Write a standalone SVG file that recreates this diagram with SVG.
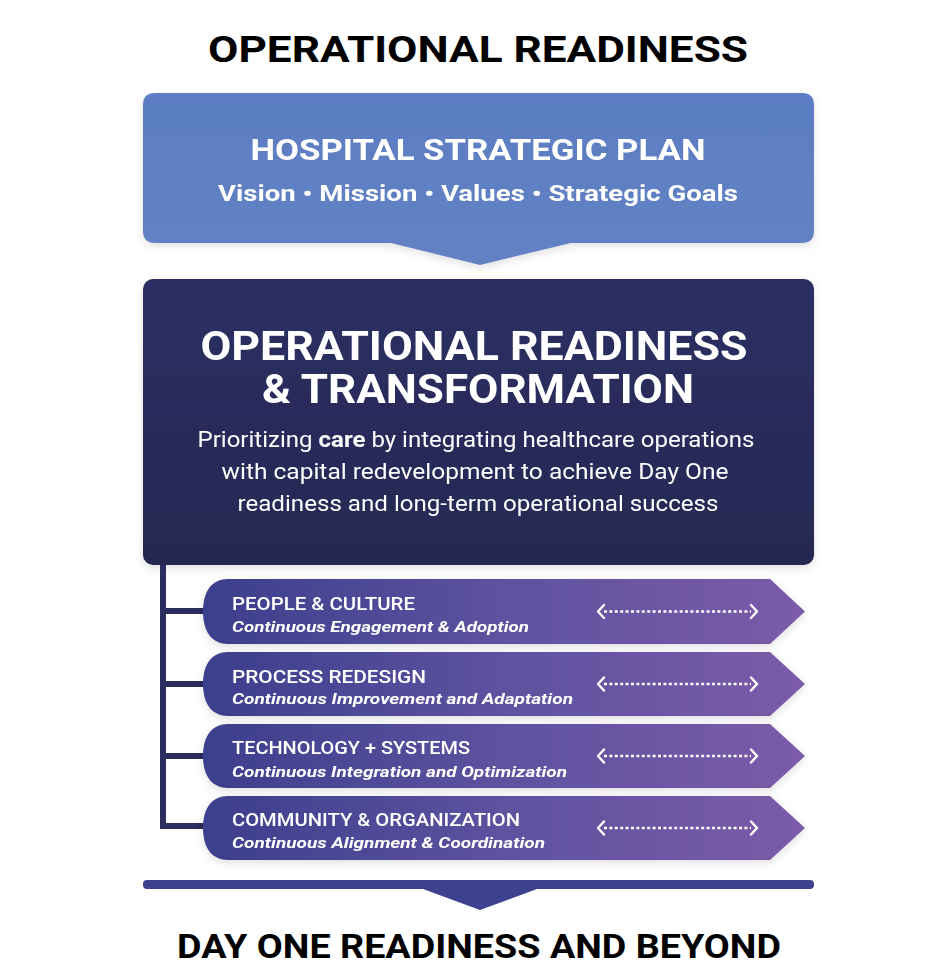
<svg xmlns="http://www.w3.org/2000/svg" width="942" height="969" viewBox="0 0 942 969">
  <defs>
    <linearGradient id="blueG" x1="0" y1="0" x2="0" y2="1">
      <stop offset="0" stop-color="#5b7dc3"/>
      <stop offset="1" stop-color="#6382c4"/>
    </linearGradient>
    <linearGradient id="navyG" x1="0" y1="0" x2="0" y2="1">
      <stop offset="0" stop-color="#2c2f63"/>
      <stop offset="1" stop-color="#262852"/>
    </linearGradient>
    <linearGradient id="bandG" x1="0" y1="0" x2="1" y2="0">
      <stop offset="0" stop-color="#3b3f8d"/>
      <stop offset="0.5" stop-color="#5e529f"/>
      <stop offset="1" stop-color="#7b5ba9"/>
    </linearGradient>
    <filter id="sh" x="-10%" y="-10%" width="120%" height="130%">
      <feDropShadow dx="0" dy="3" stdDeviation="4" flood-color="#000" flood-opacity="0.12"/>
    </filter>
    <style>
      .t { font-family: Roboto, "Liberation Sans", sans-serif; }
      .hb { font-weight: 700; fill: #000; }
      .w { fill: #fff; }
      .bt { font-weight: 500; font-size: 19px; fill: #fff; }
      .bs { font-weight: 700; font-style: italic; font-size: 15px; fill: #fff; }
      .dots { stroke: #fff; stroke-width: 2.5; stroke-dasharray: 3 2.4; fill: none; }
      .chev { stroke: #fff; stroke-width: 2.4; fill: none; stroke-linecap: round; stroke-linejoin: round; }
      .tree { stroke: #2a2d5e; stroke-width: 6; fill: none; }
    </style>
  </defs>

  <rect width="942" height="969" fill="#fff"/>

  <g id="title">
    <text class="t hb" x="478" y="62" font-size="37" text-anchor="middle" textLength="540" lengthAdjust="spacingAndGlyphs">OPERATIONAL READINESS</text>
  </g>

  <g id="strategic-plan" filter="url(#sh)">
    <path d="M155 93 H802 Q814 93 814 105 V231 Q814 243 802 243 H571 L480 265 L391 243 H155 Q143 243 143 231 V105 Q143 93 155 93 Z" fill="url(#blueG)"/>
    <text class="t w" x="478" y="160" font-size="30" font-weight="700" text-anchor="middle" textLength="455" lengthAdjust="spacingAndGlyphs">HOSPITAL STRATEGIC PLAN</text>
    <text class="t w" x="478" y="201" font-size="22" font-weight="700" text-anchor="middle" textLength="520" lengthAdjust="spacingAndGlyphs">Vision • Mission • Values • Strategic Goals</text>
  </g>

  <g id="readiness" filter="url(#sh)">
    <rect x="143" y="279" width="671" height="286" rx="10" fill="url(#navyG)"/>
    <text class="t w" x="474" y="360" font-size="40" font-weight="700" text-anchor="middle" textLength="547" lengthAdjust="spacingAndGlyphs">OPERATIONAL READINESS</text>
    <text class="t w" x="478" y="403" font-size="40" font-weight="700" text-anchor="middle" textLength="432" lengthAdjust="spacingAndGlyphs">&amp; TRANSFORMATION</text>
    <text class="t w" x="476" y="447" font-size="22" text-anchor="middle" textLength="557" lengthAdjust="spacingAndGlyphs">Prioritizing <tspan font-weight="700">care</tspan> by integrating healthcare operations</text>
    <text class="t w" x="475" y="479" font-size="22" text-anchor="middle" textLength="507" lengthAdjust="spacingAndGlyphs">with capital redevelopment to achieve Day One</text>
    <text class="t w" x="478" y="511" font-size="22" text-anchor="middle" textLength="481" lengthAdjust="spacingAndGlyphs">readiness and long-term operational success</text>
  </g>

  <g id="connectors">
    <path class="tree" d="M163 565 V826 H206"/>
    <path class="tree" d="M163 611 H206 M163 684 H206 M163 756 H206"/>
  </g>

  <g id="people-culture" filter="url(#sh)">
    <path d="M228 579 H770 L805 611.5 L770 644 H228 C212 644 203 632 203 611.5 C203 591 212 579 228 579 Z" fill="url(#bandG)"/>
    <text class="t bt" x="232" y="610" textLength="183" lengthAdjust="spacingAndGlyphs">PEOPLE &amp; CULTURE</text>
    <text class="t bs" x="232" y="632" textLength="297" lengthAdjust="spacingAndGlyphs">Continuous Engagement &amp; Adoption</text>
    <line class="dots" x1="604" y1="611.5" x2="751" y2="611.5"/>
    <polyline class="chev" points="604,605 598,611.5 604,618"/>
    <polyline class="chev" points="751,605 757,611.5 751,618"/>
  </g>

  <g id="process-redesign" filter="url(#sh)">
    <path d="M228 652 H770 L805 684 L770 716 H228 C212 716 203 704 203 684 C203 664 212 652 228 652 Z" fill="url(#bandG)"/>
    <text class="t bt" x="232" y="683" textLength="194" lengthAdjust="spacingAndGlyphs">PROCESS REDESIGN</text>
    <text class="t bs" x="232" y="704" textLength="341" lengthAdjust="spacingAndGlyphs">Continuous Improvement and Adaptation</text>
    <line class="dots" x1="604" y1="684" x2="751" y2="684"/>
    <polyline class="chev" points="604,677.5 598,684 604,690.5"/>
    <polyline class="chev" points="751,677.5 757,684 751,690.5"/>
  </g>

  <g id="technology-systems" filter="url(#sh)">
    <path d="M228 724 H770 L805 756 L770 788 H228 C212 788 203 776 203 756 C203 736 212 724 228 724 Z" fill="url(#bandG)"/>
    <text class="t bt" x="232" y="754" textLength="238" lengthAdjust="spacingAndGlyphs">TECHNOLOGY + SYSTEMS</text>
    <text class="t bs" x="232" y="777" textLength="335" lengthAdjust="spacingAndGlyphs">Continuous Integration and Optimization</text>
    <line class="dots" x1="604" y1="756" x2="751" y2="756"/>
    <polyline class="chev" points="604,749.5 598,756 604,762.5"/>
    <polyline class="chev" points="751,749.5 757,756 751,762.5"/>
  </g>

  <g id="community-organization" filter="url(#sh)">
    <path d="M228 796 H770 L805 828 L770 860 H228 C212 860 203 848 203 828 C203 808 212 796 228 796 Z" fill="url(#bandG)"/>
    <text class="t bt" x="232" y="826" textLength="288" lengthAdjust="spacingAndGlyphs">COMMUNITY &amp; ORGANIZATION</text>
    <text class="t bs" x="232" y="848" textLength="313" lengthAdjust="spacingAndGlyphs">Continuous Alignment &amp; Coordination</text>
    <line class="dots" x1="604" y1="828" x2="751" y2="828"/>
    <polyline class="chev" points="604,821.5 598,828 604,834.5"/>
    <polyline class="chev" points="751,821.5 757,828 751,834.5"/>
  </g>

  <g id="day-one">
    <path d="M147 880 H810 Q814 880 814 884 V885 Q814 889 810 889 H537 L480 910 L423 889 H147 Q143 889 143 885 V884 Q143 880 147 880 Z" fill="#3c4290"/>
    <text class="t hb" x="479" y="958" font-size="33" text-anchor="middle" textLength="604" lengthAdjust="spacingAndGlyphs">DAY ONE READINESS AND BEYOND</text>
  </g>
</svg>
